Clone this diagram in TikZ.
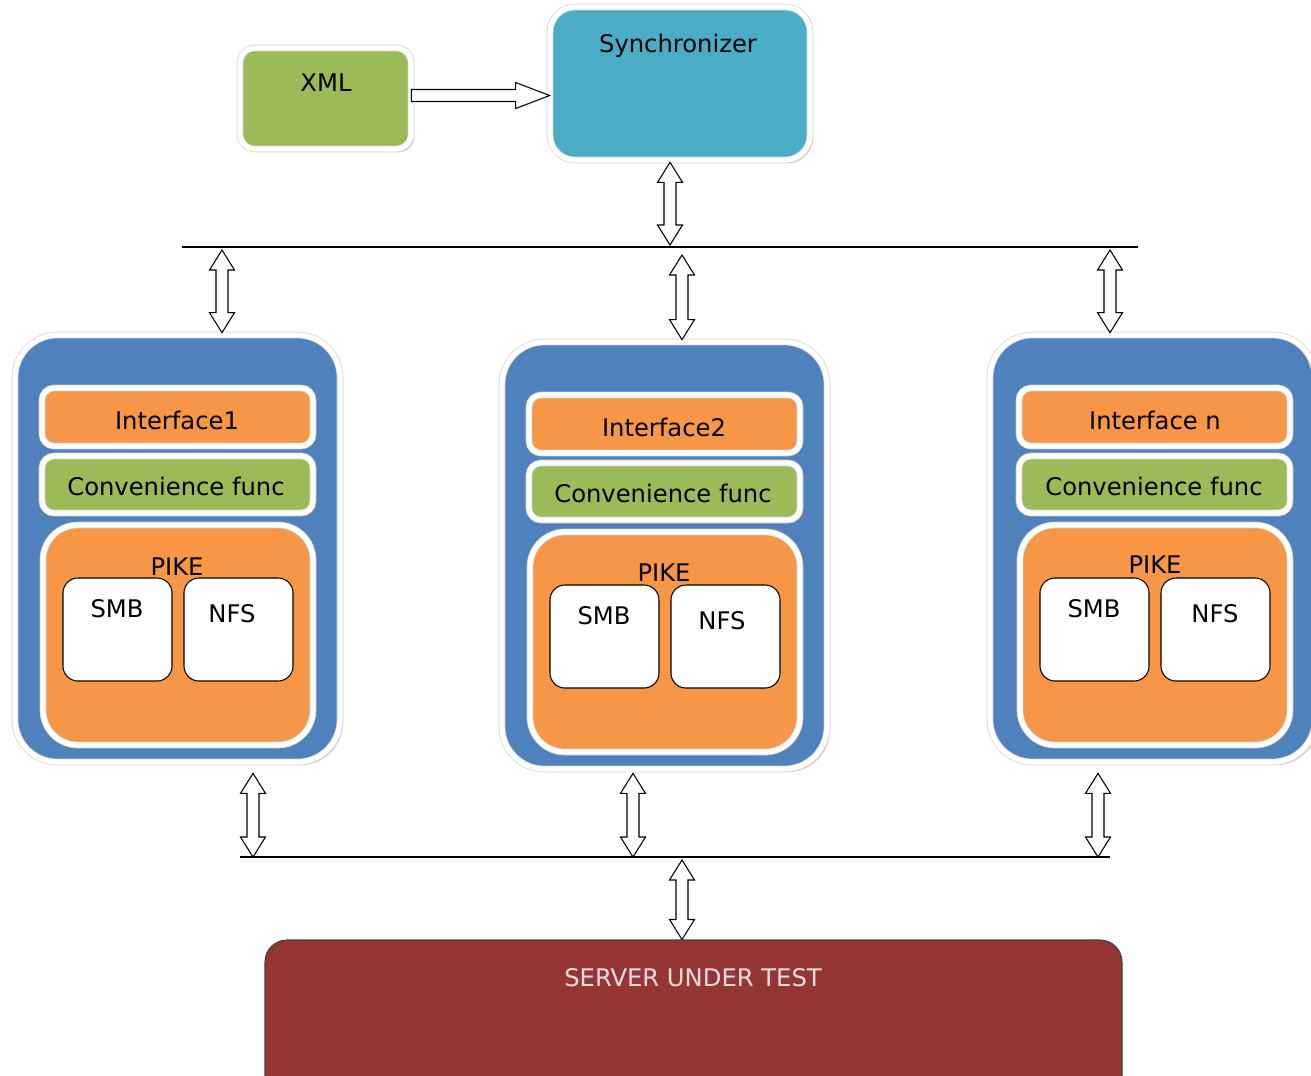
\documentclass[tikz,border=0pt]{standalone}
\usepackage{fontspec}
\setmainfont{DejaVu Sans}
\usetikzlibrary{calc,fit,shadows}
\definecolor{xmlgreen}{HTML}{9BBB59}
\definecolor{synccyan}{HTML}{4BACC6}
\definecolor{hostblue}{HTML}{4F81BD}
\definecolor{layerorange}{HTML}{F79646}
\definecolor{serverred}{HTML}{943634}
\definecolor{serverfont}{HTML}{F2DCDB}
\tikzset{
  panel/.style={rectangle, inner sep=0pt, draw=gray!35, line width=0.4pt,
    double=white, double distance=3pt,
    drop shadow={shadow xshift=1.8pt, shadow yshift=-1.8pt, opacity=0.35}},
  proto/.style={rectangle, inner sep=0pt, draw=black, line width=0.6pt,
    fill=white, rounded corners=0.3cm},
  lbl/.style={anchor=base, inner sep=0pt, font=\fontsize{13.8}{16}\selectfont},
  bus/.style={draw=black, line width=0.7pt},
  twoway/.style={draw=black, fill=white, line width=0.6pt, to path={
    let \p1=(\tikztostart), \p2=(\tikztotarget) in
    (\x1,\y1) -- (\x1+0.25cm,\y1-0.4cm) -- (\x1+0.12cm,\y1-0.4cm)
    -- (\x1+0.12cm,\y2+0.4cm) -- (\x1+0.25cm,\y2+0.4cm) -- (\x1,\y2)
    -- (\x1-0.25cm,\y2+0.4cm) -- (\x1-0.12cm,\y2+0.4cm)
    -- (\x1-0.12cm,\y1-0.4cm) -- (\x1-0.25cm,\y1-0.4cm) -- cycle}},
  oneway/.style={draw=black, fill=white, line width=0.6pt, to path={
    let \p1=(\tikztostart), \p2=(\tikztotarget) in
    (\x1,\y1+0.12cm) -- (\x2-0.68cm,\y1+0.12cm) -- (\x2-0.68cm,\y1+0.26cm)
    -- (\x2,\y1) -- (\x2-0.68cm,\y1-0.26cm) -- (\x2-0.68cm,\y1-0.12cm)
    -- (\x1,\y1-0.12cm) -- cycle}}
}

\begin{document}
\begin{tikzpicture}
\begin{scope}[x=0.02cm, y=-0.02cm]
    \useasboundingbox (0,0) rectangle (1311,1075);
    \clip (0,0) rectangle (1311,1075);
    %top boxes
    \node[panel, fill=xmlgreen, rounded corners=0.3cm, fit={(240,48) (411,149)}] (xml) {};
    \node[panel, fill=synccyan, rounded corners=0.5cm, fit={(550,7) (810,160)}] (sync) {};
    \node[lbl] (xmltxt) at (326,91) {XML};
    \node[lbl] (synctxt) at (678,52) {Synchronizer};
    %host 1
    \node[panel, fill=hostblue, rounded corners=0.85cm, fit={(15,335) (340,762)}] (col1) {};
    \node[panel, fill=layerorange, rounded corners=0.24cm, fit={(42,388) (313,446)}] (intf1) {};
    \node[panel, fill=xmlgreen, rounded corners=0.24cm, fit={(42,456) (313,513)}] (conv1) {};
    \node[panel, fill=layerorange, rounded corners=0.7cm, fit={(43,525) (313,745)}] (pike1) {};
    \node[proto, fit={(63,578) (172,681)}] (smb1) {};
    \node[proto, fit={(184,578) (293,681)}] (nfs1) {};
    %host 2
    \node[panel, fill=hostblue, rounded corners=0.85cm, fit={(502,342) (827,769)}] (col2) {};
    \node[panel, fill=layerorange, rounded corners=0.24cm, fit={(529,395) (800,453)}] (intf2) {};
    \node[panel, fill=xmlgreen, rounded corners=0.24cm, fit={(529,463) (800,520)}] (conv2) {};
    \node[panel, fill=layerorange, rounded corners=0.7cm, fit={(530,532) (800,752)}] (pike2) {};
    \node[proto, fit={(550,585) (659,688)}] (smb2) {};
    \node[proto, fit={(671,585) (780,688)}] (nfs2) {};
    %host 3
    \node[panel, fill=hostblue, rounded corners=0.85cm, fit={(990,335) (1315,762)}] (col3) {};
    \node[panel, fill=layerorange, rounded corners=0.24cm, fit={(1019,388) (1290,446)}] (intf3) {};
    \node[panel, fill=xmlgreen, rounded corners=0.24cm, fit={(1019,456) (1290,513)}] (conv3) {};
    \node[panel, fill=layerorange, rounded corners=0.7cm, fit={(1020,525) (1290,745)}] (pike3) {};
    \node[proto, fit={(1040,578) (1149,681)}] (smb3) {};
    \node[proto, fit={(1161,578) (1270,681)}] (nfs3) {};
    %host labels
    \node[lbl] (intf1txt) at (177,429) {Interface1};
    \node[lbl] (conv1txt) at (176,495) {Convenience func};
    \node[lbl] (pike1txt) at (177,575) {PIKE};
    \node[lbl] (smb1txt) at (117,617) {SMB};
    \node[lbl] (nfs1txt) at (232,622) {NFS};
    \node[lbl] (intf2txt) at (664,436) {Interface2};
    \node[lbl] (conv2txt) at (663,502) {Convenience func};
    \node[lbl] (pike2txt) at (664,581) {PIKE};
    \node[lbl] (smb2txt) at (604,624) {SMB};
    \node[lbl] (nfs2txt) at (722,629) {NFS};
    \node[lbl] (intf3txt) at (1155,429) {Interface n};
    \node[lbl] (conv3txt) at (1154,495) {Convenience func};
    \node[lbl] (pike3txt) at (1155,573) {PIKE};
    \node[lbl] (smb3txt) at (1094,617) {SMB};
    \node[lbl] (nfs3txt) at (1215,622) {NFS};
    %server
    \node[fit={(265,940) (1122,1110)}, inner sep=0pt, draw=black!75, line width=0.6pt,
        fill=serverred, rounded corners=0.44cm] (server) {};
    \node[lbl, text=serverfont] (servertxt) at (693,986) {SERVER UNDER TEST};
    %bus lines
    \coordinate (topL) at (182,247);
    \coordinate (topR) at (1138,247);
    \coordinate (botL) at (240,857);
    \coordinate (botR) at (1110,857);
    \draw[bus] (topL) -- (topR);
    \draw[bus] (botL) -- (botR);
    %arrow positions on the buses
    \coordinate (t0) at (670,247);
    \coordinate (t1) at (222,247);
    \coordinate (t2) at (682,247);
    \coordinate (t3) at (1110,247);
    \coordinate (u0) at (682,857);
    \coordinate (u1) at (253,857);
    \coordinate (u2) at (633,857);
    \coordinate (u3) at (1098,857);
    %arrows
    \draw[oneway] ($(xml.east)+(0,-3)$) to ($(sync.west |- xml.east)+(0,-3)$);
    \draw[twoway] ($(t0 |- sync.south)+(0,2)$) to ($(t0)+(0,-2)$);
    \draw[twoway] ($(t1)+(0,3)$) to ($(t1 |- col1.north)+(0,-2)$);
    \draw[twoway] ($(t2)+(0,8)$) to ($(t2 |- col2.north)+(0,-2)$);
    \draw[twoway] ($(t3)+(0,3)$) to ($(t3 |- col3.north)+(0,-2)$);
    \draw[twoway] ($(u1 |- col1.south)+(0,11)$) to (u1);
    \draw[twoway] ($(u2 |- col2.south)+(0,4)$) to (u2);
    \draw[twoway] ($(u3 |- col3.south)+(0,11)$) to (u3);
    \draw[twoway] ($(u0)+(0,3)$) to (u0 |- server.north);
\end{scope}
\end{tikzpicture}
\end{document}
